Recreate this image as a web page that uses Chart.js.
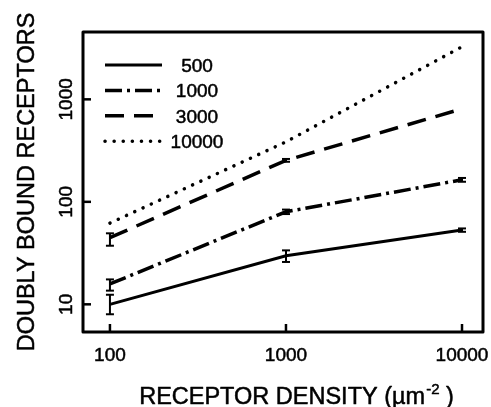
<!DOCTYPE html>
<html><head><meta charset="utf-8">
<script src="https://cdn.jsdelivr.net/npm/chart.js@4.4.0/dist/chart.umd.min.js"></script>
<style>html,body{margin:0;padding:0;background:#fff;} canvas{display:block;}</style>
</head><body>
<canvas id="c" width="491" height="407"></canvas>
<script>
// ---- data ----
const densities = [100, 1000, 10000];
const seriesNames = ['500', '1000', '3000', '10000'];
const bound500 = [10, 29.8, 53];
const bound1000 = [15.8, 80, 164];
const bound3000 = [44.7, 254, 809];
const bound10000 = [62, 385, 3260];
const errLow500 = [8.0, 25.9, 51];
const errHigh500 = [12.4, 33.6, 55];
const errLow1000 = [13.6, 76, 157];
const errHigh1000 = [17.5, 84, 171];
const errLow3000 = [37.3, 246, null];
const errHigh3000 = [49.3, 262, null];
const xTicks = [100, 1000, 10000];
const yTicks = [10, 100, 1000];
const xTitle = 'RECEPTOR DENSITY (\u00B5m';
const xTitleSup = '-2';
const xTitleEnd = ' )';
const yTitle = 'DOUBLY BOUND RECEPTORS';

const FONT = '"Liberation Sans", Arial, Helvetica, sans-serif';
const STROKE = 0.5;
const errSets = [[errLow500, errHigh500], [errLow1000, errHigh1000], [errLow3000, errHigh3000]];

function pts(vals) { return densities.map((d, i) => ({ x: d, y: vals[i] })); }

const decor = {
  id: 'decor',
  afterDatasetsDraw(chart) {
    const { ctx, chartArea: a, scales: { x, y } } = chart;
    const line = (x1, y1, x2, y2) => { ctx.beginPath(); ctx.moveTo(x1, y1); ctx.lineTo(x2, y2); ctx.stroke(); };
    const text = (s, tx, ty) => { ctx.lineWidth = STROKE; ctx.strokeText(s, tx, ty); ctx.fillText(s, tx, ty); };
    ctx.save();
    ctx.strokeStyle = '#000'; ctx.fillStyle = '#000';
    ctx.lineCap = 'butt'; ctx.lineJoin = 'round';
    // error bars
    ctx.lineWidth = 2;
    errSets.forEach(([lo, hi]) => {
      densities.forEach((d, i) => {
        if (lo[i] == null) return;
        const px = x.getPixelForValue(d);
        const y1 = y.getPixelForValue(lo[i]), y2 = y.getPixelForValue(hi[i]);
        line(px, y1, px, y2);
        line(px - 4, y1, px + 4, y1);
        line(px - 4, y2, px + 4, y2);
      });
    });
    // frame
    ctx.lineWidth = 3;
    ctx.strokeRect(a.left, a.top, a.right - a.left, a.bottom - a.top);
    // inward ticks
    ctx.lineWidth = 2.5;
    x.ticks.forEach(t => { const px = x.getPixelForValue(t.value); line(px, a.bottom, px, a.bottom - 8); });
    y.ticks.forEach(t => { const py = y.getPixelForValue(t.value); line(a.left, py, a.left + 8, py); });
    // y tick labels (rotated)
    ctx.font = '19px ' + FONT;
    ctx.textAlign = 'center'; ctx.textBaseline = 'alphabetic';
    y.ticks.forEach(t => {
      const py = y.getPixelForValue(t.value);
      ctx.save(); ctx.translate(72, py); ctx.rotate(-Math.PI / 2);
      text(String(t.value), 0, 0); ctx.restore();
    });
    // y title
    ctx.font = '23.5px ' + FONT;
    ctx.save(); ctx.translate(34, 182); ctx.rotate(-Math.PI / 2);
    text(yTitle, 0, 0); ctx.restore();
    // x title with superscript
    ctx.textAlign = 'left';
    const mainF = '23.5px ' + FONT, supF = '15px ' + FONT;
    ctx.font = mainF; const w1 = ctx.measureText(xTitle).width;
    ctx.font = supF; const w2 = ctx.measureText(xTitleSup).width;
    ctx.font = mainF; const w3 = ctx.measureText(xTitleEnd).width;
    let sx = 296 - (w1 + w2 + w3) / 2;
    const by = 404;
    ctx.font = mainF; text(xTitle, sx, by); sx += w1;
    ctx.font = supF; text(xTitleSup, sx + 1, by - 10); sx += w2 + 1;
    ctx.font = mainF; text(xTitleEnd, sx, by);
    // legend
    ctx.font = '19px ' + FONT; ctx.textAlign = 'center';
    chart.data.datasets.forEach((ds, i) => {
      const ly = 65 + i * 25.4;
      ctx.setLineDash(ds.borderDash || []);
      ctx.lineCap = ds.borderCapStyle || 'butt';
      ctx.lineWidth = ds.borderWidth;
      line(105, ly, 162, ly);
      ctx.setLineDash([]); ctx.lineCap = 'butt';
      text(ds.label, 197, ly + 7);
    });
    ctx.restore();
  }
};

const common = { borderColor: '#000', backgroundColor: '#000', pointRadius: 0, fill: false, tension: 0 };

new Chart(document.getElementById('c'), {
  type: 'line',
  data: {
    datasets: [
      { ...common, label: seriesNames[0], data: pts(bound500), borderWidth: 3, borderDash: [] },
      { ...common, label: seriesNames[1], data: pts(bound1000), borderWidth: 3.5, borderDash: [17, 5, 3, 5] },
      { ...common, label: seriesNames[2], data: pts(bound3000), borderWidth: 3.5, borderDash: [19, 10] },
      { ...common, label: seriesNames[3], data: pts(bound10000), borderWidth: 3.5, borderDash: [0.1, 9], borderCapStyle: 'round' }
    ]
  },
  options: {
    responsive: false, animation: false, devicePixelRatio: 1,
    layout: { padding: { top: 32, right: 8, left: 0, bottom: 0 } },
    plugins: { legend: { display: false }, tooltip: { enabled: false } },
    scales: {
      x: {
        type: 'logarithmic', position: 'bottom', min: 70.3, max: 13160,
        grid: { display: false }, border: { display: false },
        afterBuildTicks: s => { s.ticks = xTicks.map(v => ({ value: v })); },
        afterFit: s => { s.height = 75; s.paddingLeft = 0; s.paddingRight = 0; },
        ticks: { color: '#000', font: { family: FONT, size: 19 }, padding: 4, callback: v => String(v), maxRotation: 0, autoSkip: false, textStrokeColor: '#000', textStrokeWidth: STROKE }
      },
      y: {
        type: 'logarithmic', position: 'left', min: 5.37, max: 4540,
        grid: { display: false }, border: { display: false },
        afterBuildTicks: s => { s.ticks = yTicks.map(v => ({ value: v })); },
        afterFit: s => { s.width = 83; },
        ticks: { display: false }
      }
    }
  },
  plugins: [decor]
});
</script>
</body></html>
